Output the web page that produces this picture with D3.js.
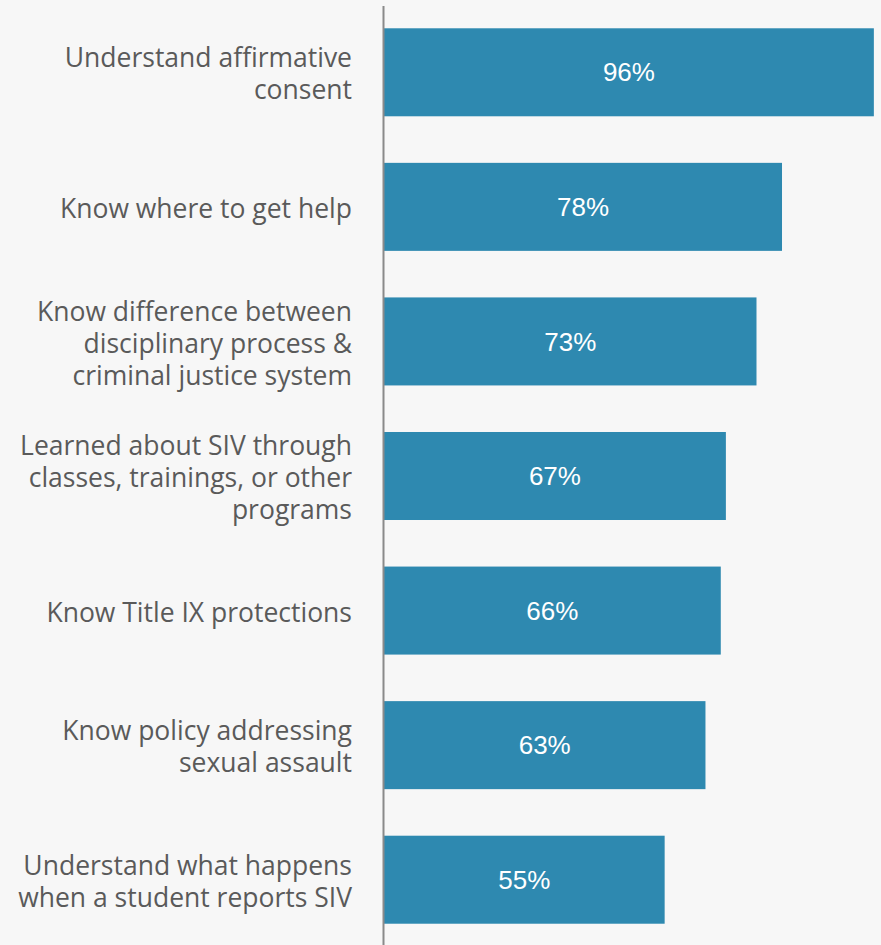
<!DOCTYPE html>
<html lang="en">
<head>
    <meta charset="UTF-8">
    <title>Student awareness</title>
    <script src="https://d3js.org/d3.v7.min.js"></script>
    <style>
        body {
            margin: 0;
            background: #f7f7f7;
        }
        .cat-label {
            font-family: 'Open Sans', sans-serif;
            font-size: 26.5px;
            fill: #5a5a5a;
        }
        .val-label {
            font-family: 'Liberation Sans', Arial, sans-serif;
            font-size: 26px;
            fill: #ffffff;
        }
    </style>
</head>
<body>
<div id="chart"></div>
<script>
    // categories (each entry is the lines of the label)
    var categories = [
        ["Understand affirmative", "consent"],
        ["Know where to get help"],
        ["Know difference between", "disciplinary process &", "criminal justice system"],
        ["Learned about SIV through", "classes, trainings, or other", "programs"],
        ["Know Title IX protections"],
        ["Know policy addressing", "sexual assault"],
        ["Understand what happens", "when a student reports SIV"]
    ];
    var values = [96, 78, 73, 67, 66, 63, 55];

    var width = 881, height = 945;
    var left = 384;

    var svg = d3.select("#chart")
        .append("svg")
        .attr("width", width)
        .attr("height", height);

    svg.append("rect")
        .attr("width", width)
        .attr("height", height)
        .attr("fill", "#f7f7f7");

    var x = d3.scaleLinear()
        .domain([0, 97.4])
        .range([left, 881]);

    var y = d3.scaleBand()
        .domain(d3.range(values.length))
        .range([5, 947])
        .paddingInner(0.346)
        .paddingOuter(0.173);

    // bars
    svg.selectAll("rect.bar")
        .data(values)
        .enter().append("rect")
        .attr("class", "bar")
        .attr("x", x(0))
        .attr("y", (d, i) => y(i))
        .attr("width", d => x(d) - x(0))
        .attr("height", y.bandwidth())
        .attr("fill", "#2e89b0");

    // value labels in the middle of each bar
    svg.selectAll("text.val-label")
        .data(values)
        .enter().append("text")
        .attr("class", "val-label")
        .attr("x", d => (x(0) + x(d)) / 2)
        .attr("y", (d, i) => y(i) + y.bandwidth() / 2)
        .attr("dy", "0.35em")
        .attr("text-anchor", "middle")
        .text(d => d + "%");

    // category labels, multi-line, right aligned
    var lineH = 32;
    var labels = svg.selectAll("text.cat-label")
        .data(categories)
        .enter().append("text")
        .attr("class", "cat-label")
        .attr("text-anchor", "end");

    labels.each(function (lines, i) {
        var cy = y(i) + y.bandwidth() / 2;
        var startY = cy - (lines.length - 1) * lineH / 2;
        d3.select(this).selectAll("tspan")
            .data(lines)
            .enter().append("tspan")
            .attr("x", 352)
            .attr("y", (l, j) => startY + j * lineH)
            .attr("dy", "0.42em")
            .text(l => l);
    });

    // vertical axis line
    svg.append("line")
        .attr("x1", left - 0.5)
        .attr("x2", left - 0.5)
        .attr("y1", 6)
        .attr("y2", height)
        .attr("stroke", "#8a8a8a")
        .attr("stroke-width", 2);
</script>
</body>
</html>
